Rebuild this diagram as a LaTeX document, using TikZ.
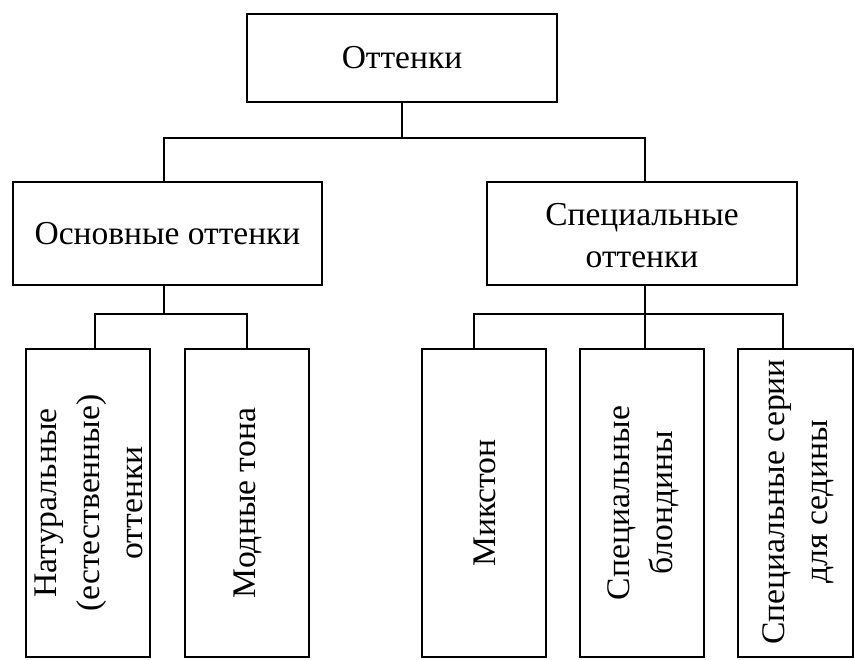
\documentclass[tikz,border=0pt]{standalone}
\usepackage{fontspec}
\setmainfont{Liberation Serif}
\begin{document}
\begin{tikzpicture}[x=1pt,y=-1pt,
  box/.style={draw=black,line width=1.5pt,inner sep=0pt,outer sep=0pt,anchor=north west},
  lbl/.style={inner sep=0pt,align=center,font=\fontsize{33.5}{42}\selectfont},
  vlbl/.style={inner sep=0pt,align=center,font=\fontsize{33}{43}\selectfont,rotate=90,xscale=1.02},
  conn/.style={draw=black,line width=1.5pt}]
\useasboundingbox (0,0) rectangle (854,659);
\clip (0,0) rectangle (854,659);
% boxes
\node[box,minimum width=310pt,minimum height=88pt] (top) at (247,14) {};
\node[lbl] (topt) at (402,58) {Оттенки};
\node[box,minimum width=309pt,minimum height=103pt] (left) at (13,182) {};
\node[lbl] (leftt) at (167.5,234) {Основные оттенки};
\node[box,minimum width=310pt,minimum height=103pt] (right) at (487,182) {};
\node[lbl] (rightt) at (642,236) {Специальные\\оттенки};
\node[box,minimum width=124pt,minimum height=308pt] (b1) at (26,349) {};
\node[box,minimum width=124pt,minimum height=308pt] (b2) at (185,349) {};
\node[box,minimum width=124pt,minimum height=308pt] (b3) at (422,349) {};
\node[box,minimum width=124pt,minimum height=308pt] (b4) at (580,349) {};
\node[box,minimum width=115pt,minimum height=308pt] (b5) at (738,349) {};
\node[vlbl] (t1) at (89,503) {Натуральные\\(естественные)\\оттенки};
\node[vlbl] (t2) at (248,503) {Модные тона};
\node[vlbl] (t3) at (485,503) {Микстон};
\node[vlbl] (t4) at (643,503) {Специальные\\блондины};
\node[vlbl] (t5) at (798,502) {Специальные серии\\для седины};
% connectors
\coordinate (bus1) at (402,138);
\coordinate (busL) at (164,314);
\coordinate (busR) at (645,314);
\draw[conn] (top.south) -- (bus1);
\draw[conn] (left.north -| busL) |- (bus1) -| (right.north -| busR);
\draw[conn] (busL |- left.south) -- (busL);
\draw[conn] (b1.north -| 95,0) |- (busL) -| (b2.north -| 247,0);
\draw[conn] (busR |- right.south) -- (busR |- b4.north);
\draw[conn] (b3.north -| 474,0) |- (busR);
\draw[conn] (busR) -| (b5.north -| 783,0);
\end{tikzpicture}
\end{document}
